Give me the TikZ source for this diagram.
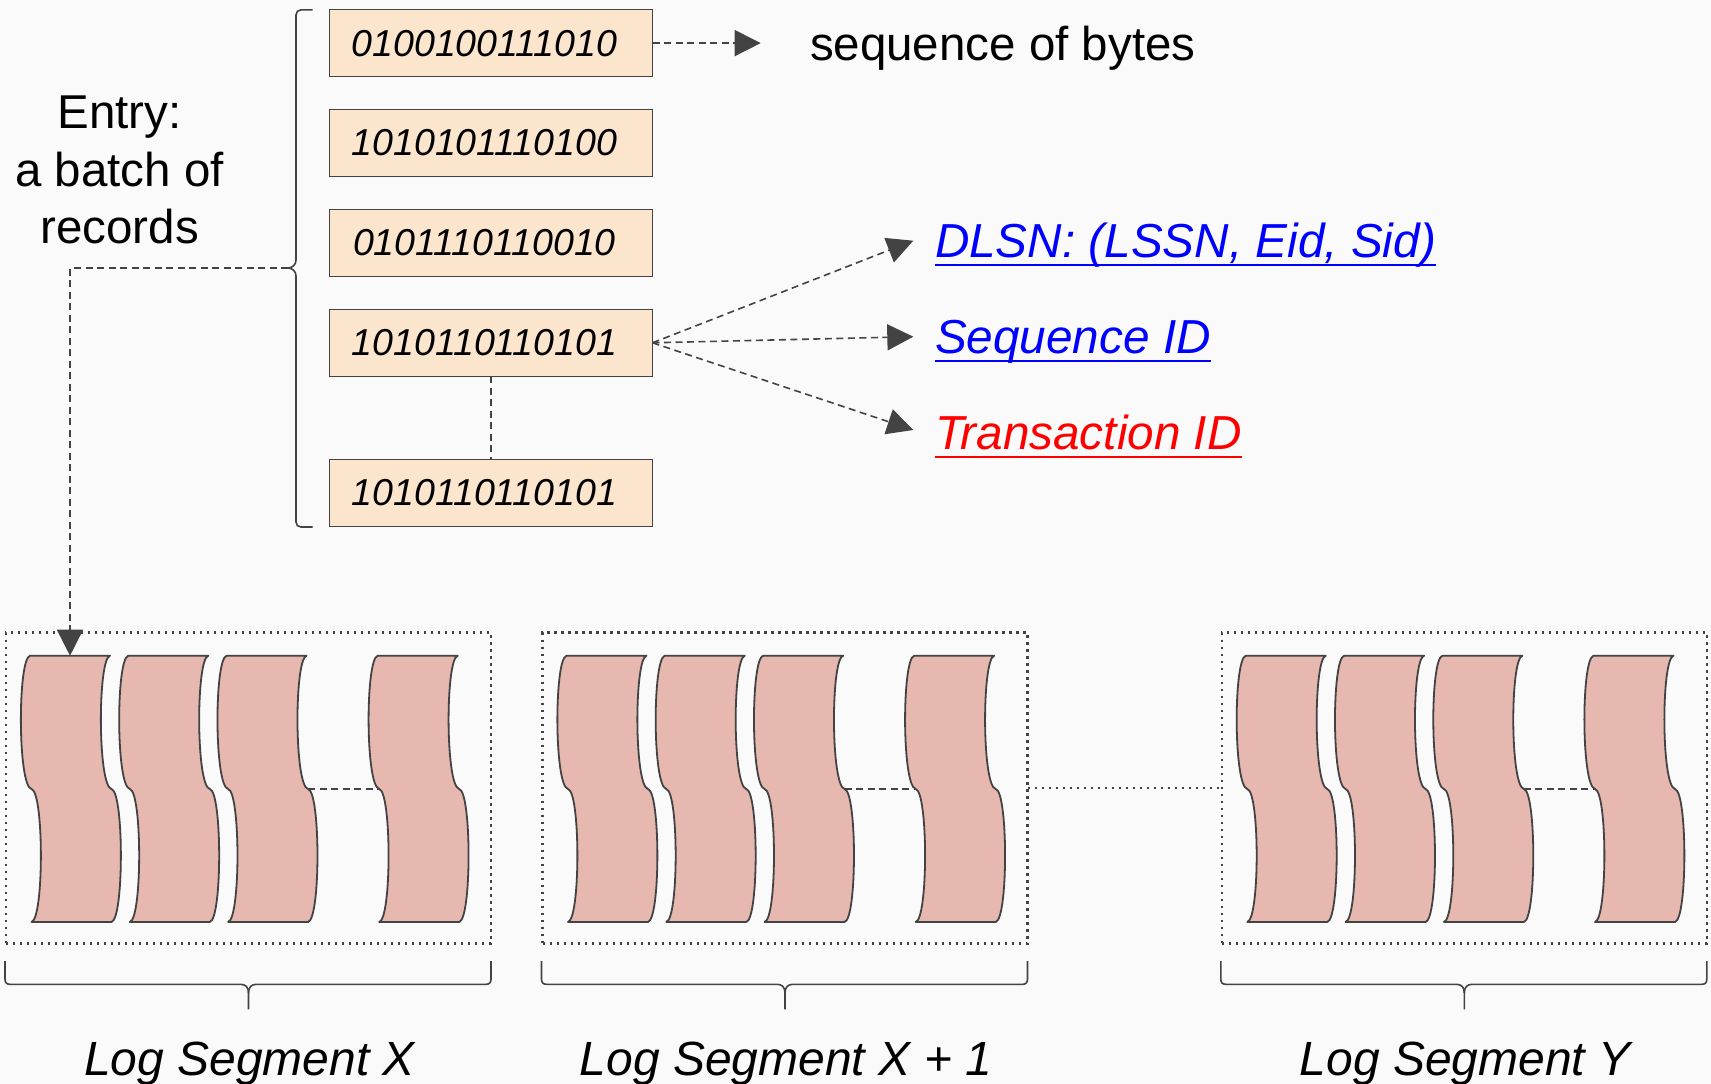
\documentclass[tikz,border=0pt]{standalone}
\usepackage{fontspec}
\setmainfont{Liberation Sans}
\usetikzlibrary{arrows.meta,calc}

\definecolor{ink}{HTML}{434343}
\definecolor{recfill}{HTML}{FCE5CD}
\definecolor{segfill}{HTML}{E6B8AF}
\definecolor{paper}{HTML}{FAFAFA}

\tikzset{
  every node/.style={inner sep=0pt, outer sep=0pt},
  record/.style={draw=ink, line width=1.6pt, fill=recfill,
    minimum width=323pt, minimum height=67pt,
    font=\fontsize{37.5}{45}\selectfont\itshape},
  biglabel/.style={font=\fontsize{47.5}{57.3}\selectfont},
  linklabel/.style={font=\fontsize{47.7}{57.3}\selectfont\itshape, anchor=base west},
  seglabel/.style={font=\fontsize{48}{57.3}\selectfont\itshape, anchor=base},
  dashline/.style={draw=ink, line width=1.6pt, dash pattern=on 7pt off 4.5pt},
  dotline/.style={draw=ink, line width=2.1pt, dash pattern=on 2.1pt off 4.9pt},
  tipped/.style={-{Triangle[length=26pt,width=26pt]}},
  bracket/.style={draw=ink, line width=1.6pt},
  segbox/.style={dotline, minimum width=485pt, minimum height=311pt},
  strip/.style={draw=ink, line width=1.8pt, fill=segfill, line join=round},
}

\begin{document}
\begin{tikzpicture}[x=1pt, y=-1pt]
\fill[paper] (0,0) rectangle (1711,1084);
\useasboundingbox (0,0) rectangle (1711,1084);

% records of one entry
\foreach \name/\yy/\bits in {r1/43.1/0100100111010, r2/143/1010101110100,
    r3/242.8/0101110110010, r4/342.8/1010110110101, r5/493/1010110110101}
  \node[record] (\name) at (491,\yy) {\hspace*{-13pt}\bits};

\node[biglabel, align=center] (entry) at (119.6,170) {Entry:\\a batch of\\records};

% brace grouping the records
\draw[bracket] (312.5,9.8) -- (301,9.8) .. controls (298,9.8) and (296,12) .. (296,15)
  -- (296,260) .. controls (296,265) and (292,268) .. (288,268)
  .. controls (292,268) and (296,271) .. (296,276)
  -- (296,522) .. controls (296,525) and (298,527) .. (301,527) -- (312.5,527);
\coordinate (btip) at (288,268);

% labels on the right
\node[biglabel, anchor=base west] (bytes) at (810,60) {sequence of bytes};
\node[linklabel, text=blue] (dlsn) at (935,257.3) {DLSN: (LSSN, Eid, Sid)};
\node[linklabel, text=blue] (seqid) at (935,353.3) {Sequence ID};
\node[linklabel, text=red] (txid) at (935,449.3) {Transaction ID};
\foreach \n/\c in {dlsn/blue, seqid/blue, txid/red}
  \draw[\c, line width=2.2pt] ([yshift=-7.5pt]\n.base west) -- ([yshift=-7.5pt]\n.base east);

\coordinate (bytes-tip) at (760.7,43.1);
\coordinate (dlsn-tip) at (913.3,240.7);
\coordinate (seq-tip) at (913.3,336.7);
\coordinate (tx-tip) at (913.3,430);

\draw[dashline, tipped] (r1.east) -- (bytes-tip);
\foreach \t in {dlsn-tip, seq-tip, tx-tip}
  \draw[dashline, tipped] (r4.east) -- (\t);
\draw[dashline] (r4.south) -- (r5.north);

% log segments
\foreach \gx/\g/\txt in {6/1/{Log Segment X}, 542.5/2/{Log Segment X + 1}, 1221.8/3/{Log Segment Y}} {
  \node[segbox] (g\g) at (\gx+242.5,788) {};
  \foreach \off/\k in {24/1, 122.3/2, 220.6/3, 371.7/4} {
    \pgfmathsetmacro\xo{\gx+\off}
    \draw[strip] (\xo,655.7) -- (\xo+80,655.7)
      .. controls (\xo+67.6,658.7) and (\xo+67.6,786) .. (\xo+81.5,789)
      .. controls (\xo+94,792) and (\xo+94,919) .. (\xo+81.5,922)
      -- (\xo+1.5,922)
      .. controls (\xo+14,919) and (\xo+14,792) .. (\xo+1.5,789)
      .. controls (\xo-12.4,786) and (\xo-12.4,658.7) .. (\xo,655.7) -- cycle;
    \coordinate (s-\g-\k-top) at (\xo+40,655.7);
    \coordinate (s-\g-\k-lm) at (\xo+1.5,789);
    \coordinate (s-\g-\k-rm) at (\xo+81.5,789);
  }
  \draw[dashline] (s-\g-3-rm) -- (s-\g-4-lm);
  % brace under the segment
  \pgfmathsetmacro\bl{\gx-1}
  \pgfmathsetmacro\br{\gx+485}
  \pgfmathsetmacro\bc{\gx+242.5}
  \draw[bracket] (\bl,961) -- (\bl,979) .. controls (\bl,982.5) and (\bl+1.5,984.3) .. (\bl+5,984.3)
    -- (\bc-8,984.3) .. controls (\bc-3,984.3) and (\bc,987) .. (\bc,993) -- (\bc,1009.3);
  \draw[bracket] (\br,961) -- (\br,979) .. controls (\br,982.5) and (\br-1.5,984.3) .. (\br-5,984.3)
    -- (\bc+8,984.3) .. controls (\bc+3,984.3) and (\bc,987) .. (\bc,993);
  \node[seglabel] (lab\g) at (\bc+1,1075) {\txt};
}

\draw[dotline] (g2.east) -- (g3.west);
\draw[dashline, tipped] (btip) -| (s-1-1-top);
\end{tikzpicture}
\end{document}
